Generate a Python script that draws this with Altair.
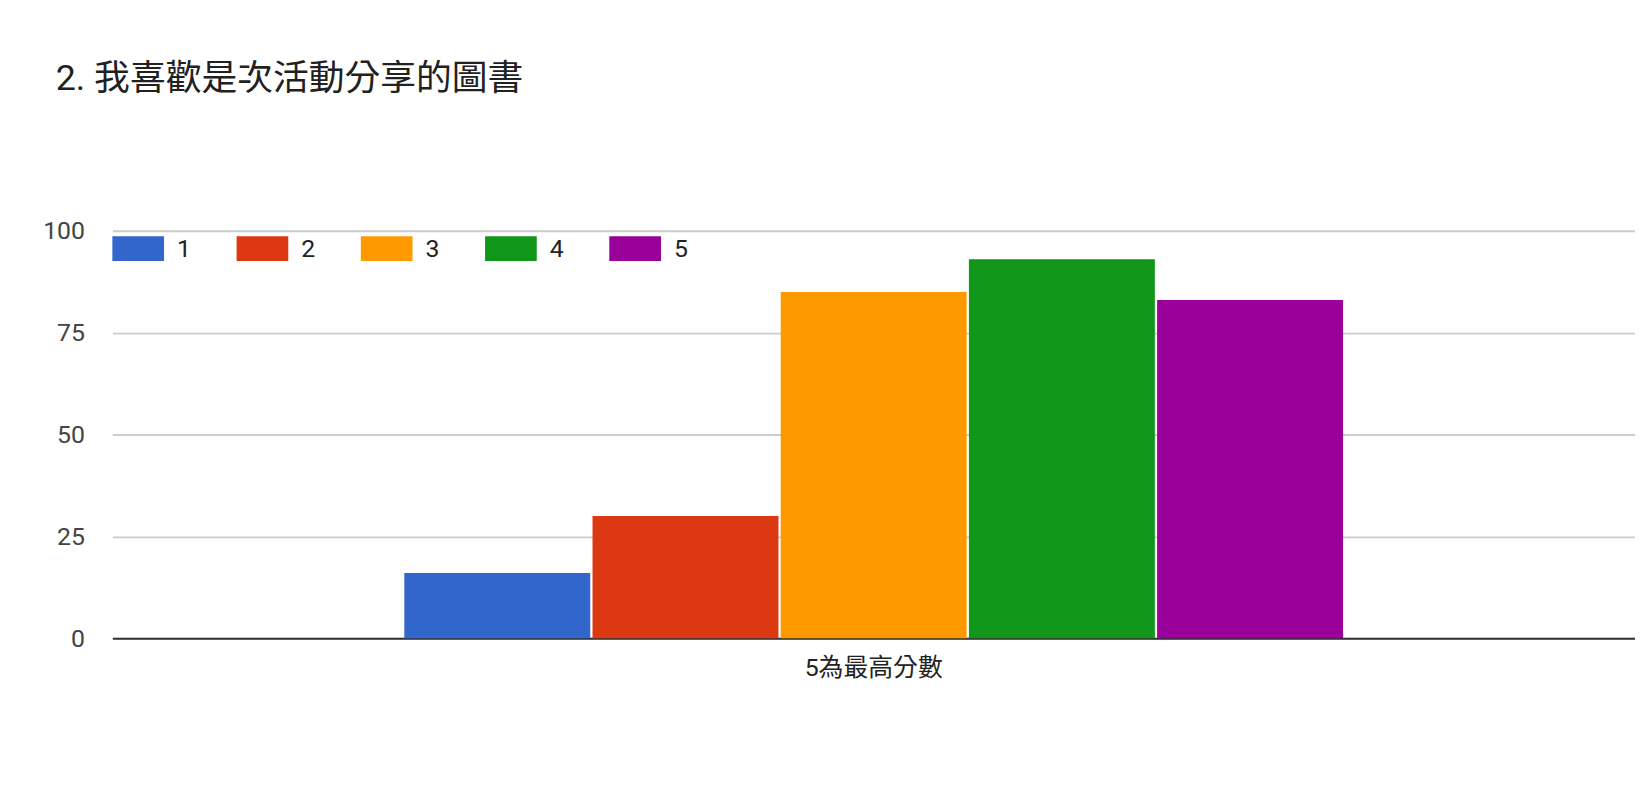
import altair as alt
import pandas as pd

title_text = "2. 我喜歡是次活動分享的圖書"
category = ["5為最高分數"] * 5
scores = ["1", "2", "3", "4", "5"]
counts = [16, 30, 85, 93, 83]
colors = ["#3366cc", "#dc3912", "#ff9900", "#109618", "#990099"]
y_ticks = [0, 25, 50, 75, 100]

df = pd.DataFrame({"cat": category, "score": scores, "count": counts})

FONT = "Roboto, 'Noto Sans CJK TC', sans-serif"

chart = alt.Chart(df).mark_bar().encode(
    x=alt.X("cat:N", title=None,
            scale=alt.Scale(paddingInner=0, paddingOuter=0.311),
            axis=alt.Axis(labelAngle=0, ticks=False, domain=True, domainColor="#333333",
                          domainWidth=2, labelFontSize=25, labelColor="#222222",
                          labelFont=FONT, labelPadding=17, grid=False)),
    xOffset=alt.XOffset("score:N", scale=alt.Scale(paddingInner=0.012, paddingOuter=0)),
    y=alt.Y("count:Q", title=None,
            scale=alt.Scale(domain=[0, 100], nice=False),
            axis=alt.Axis(values=y_ticks, ticks=False, domain=False, gridColor="#cccccc",
                          gridWidth=2, labelFontSize=25, labelColor="#444444",
                          labelFont=FONT, labelPadding=28)),
    color=alt.Color("score:N", scale=alt.Scale(domain=scores, range=colors),
                    legend=alt.Legend(title=None, orient="none", legendX=0, legendY=-8,
                                      direction="horizontal", columns=5,
                                      symbolType="M-1,-0.48L1,-0.48L1,0.48L-1,0.48Z",
                                      symbolSize=2704, symbolStrokeWidth=0,
                                      labelFontSize=25, labelColor="#222222",
                                      labelFont=FONT, labelOffset=13,
                                      columnPadding=45)),
).properties(
    width=1532,
    height=410,
    title=alt.TitleParams(title_text, anchor="start", frame="group", fontSize=36,
                          font=FONT, fontWeight="normal", color="#212121",
                          dx=-57, offset=122),
    autosize=alt.AutoSizeParams(type="none"),
    padding={"left": 105, "top": 222, "right": 0, "bottom": 60},
).configure_view(stroke=None)

chart.save("out.html", embed_options={"renderer": "svg", "actions": False})
